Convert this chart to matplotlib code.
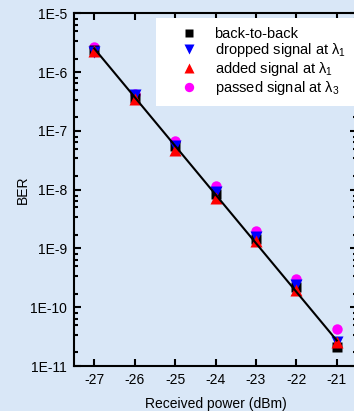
import numpy as np
import matplotlib
matplotlib.use('Agg')
import matplotlib.pyplot as plt
from matplotlib.ticker import LogLocator, NullFormatter, FixedFormatter, FixedLocator

# %% Data:

power = [-27, -26, -25, -24, -23, -22, -21]  # [dBm]

ber_b2b = [2.4e-6, 3.6e-7, 5.5e-8, 8.5e-9, 1.43e-9, 2.2e-10, 2.1e-11]
ber_drop = [2.2e-6, 4.1e-7, 5.5e-8, 9.2e-9, 1.55e-9, 2.4e-10, 2.6e-11]
ber_add = [2.3e-6, 3.5e-7, 4.7e-8, 7.2e-9, 1.35e-9, 2.0e-10, 2.6e-11]
ber_pass = [2.7e-6, 4.25e-7, 6.6e-8, 1.16e-8, 2.0e-9, 3.07e-10, 4.3e-11]

y_ticks = [1e-11, 1e-10, 1e-9, 1e-8, 1e-7, 1e-6, 1e-5]
y_ticklabels = ['1E-11', '1E-10', '1E-9', '1E-8', '1E-7', '1E-6', '1E-5']

# Linear fit of log10(BER) for back-to-back:
p = np.polyfit(power, np.log10(ber_b2b), 1)
x_fit = np.array([power[0], power[-1]])
y_fit = 10**np.polyval(p, x_fit)

# %% Plot:

plt.rcParams['font.family'] = ['Liberation Sans', 'DejaVu Sans']
plt.rcParams['mathtext.fontset'] = 'custom'
plt.rcParams['mathtext.rm'] = 'Liberation Sans'
plt.rcParams['mathtext.it'] = 'Liberation Sans'

bg = '#d9e7f7'
fig = plt.figure(figsize=(3.54, 4.11), dpi=100, facecolor=bg)
ax = fig.add_axes([74/354, 45/411, 283/354, 352.7/411])
ax.set_facecolor(bg)

ax.plot(power, ber_pass, 'o', color='#ff00ff', ms=7.5, mec='none',
        label=r'passed signal at $\mathrm{\lambda}_3$', zorder=3)
ax.plot(power, ber_b2b, 's', color='black', ms=7, mec='none',
        label='back-to-back', zorder=4)
ax.plot(power, ber_drop, 'v', color='#0000ff', ms=8.5, mec='none',
        label=r'dropped signal at $\mathrm{\lambda}_1$', zorder=5)
ax.plot(power, ber_add, '^', color='#ff0000', ms=8.5, mec='none',
        label=r'added signal at $\mathrm{\lambda}_1$', zorder=6)
ax.plot(x_fit, y_fit, '-', color='black', lw=1.5, zorder=7)

ax.set_yscale('log')
ax.set_xlim(-27.5, -20.5)
ax.set_ylim(1e-11, 1e-5)
ax.set_xticks(power)
ax.set_xticklabels([str(v) for v in power])
ax.yaxis.set_major_locator(FixedLocator(y_ticks))
ax.yaxis.set_major_formatter(FixedFormatter(y_ticklabels))
ax.yaxis.set_minor_locator(LogLocator(base=10, subs=(1.7, 3.4, 5.0, 6.4, 7.9)))
ax.yaxis.set_minor_formatter(NullFormatter())

for s in ax.spines.values():
    s.set_linewidth(1.5)
ax.tick_params(which='both', direction='in', top=True, right=True,
               width=1.5, labelsize=10, colors='black')
ax.tick_params(which='major', length=5, pad=5)
ax.tick_params(which='minor', length=3)

ax.set_xlabel('Received power (dBm)', fontsize=10, labelpad=7)
ax.set_ylabel('BER', fontsize=10, labelpad=0)

h, l = ax.get_legend_handles_labels()
order = [1, 2, 3, 0]
leg = ax.legend([h[i] for i in order], [l[i] for i in order],
                loc='upper right', bbox_to_anchor=(0.99, 0.987),
                fontsize=10.5, frameon=True, fancybox=False, framealpha=1,
                facecolor='white', edgecolor='none', borderpad=0.6,
                handletextpad=0.1, labelspacing=0.05, borderaxespad=0,
                handlelength=3.3, markerscale=0.9)

fig.savefig('out.png', dpi=100, facecolor=bg)
